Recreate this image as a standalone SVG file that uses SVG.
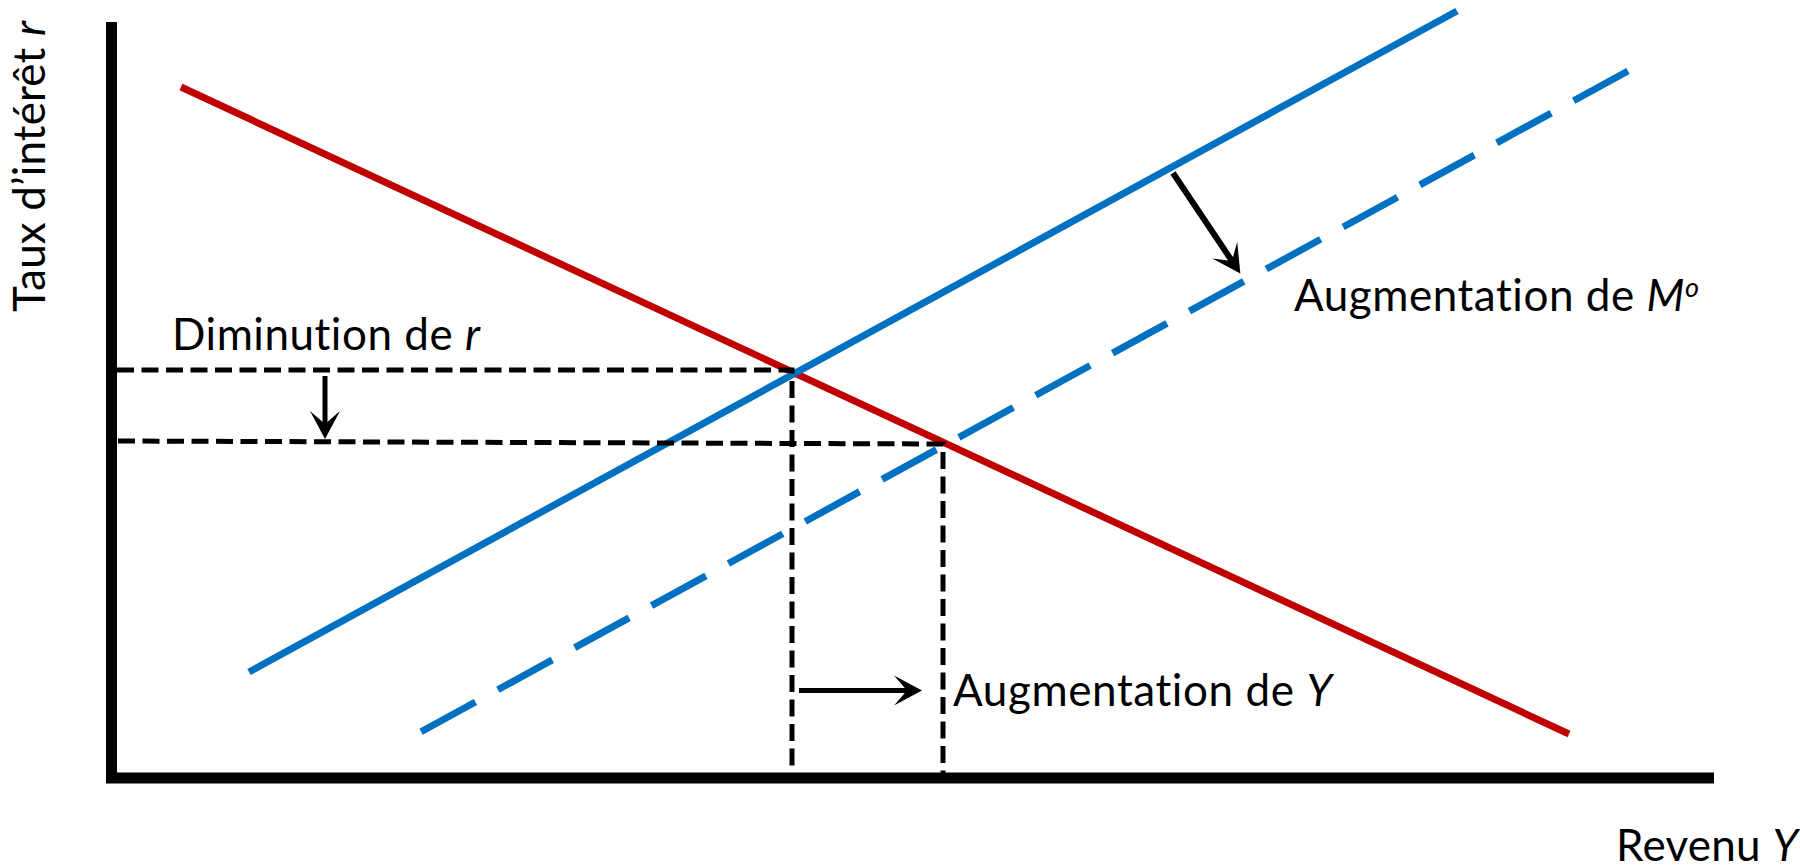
<svg xmlns="http://www.w3.org/2000/svg" width="1800" height="867" viewBox="0 0 1800 867">
<style>
.lbl{font-family:"Lato","Open Sans","Liberation Sans",sans-serif;font-size:44px;fill:#000;font-variant-ligatures:none;font-feature-settings:"liga" 0}
.it{font-style:italic}
.axis{stroke:#000;stroke-width:11;fill:none}
.is{stroke:#C00000;stroke-width:7;fill:none}
.lm{stroke:#0070C0;stroke-width:7;fill:none}
.lm2{stroke:#0070C0;stroke-width:7;fill:none;stroke-dasharray:62 25.6}
.guide{stroke:#000;stroke-width:5;fill:none;stroke-dasharray:17 7.5}
.arr{stroke:#000;stroke-width:5;fill:none;marker-end:url(#ah)}
</style>
<defs>
<marker id="ah" markerUnits="userSpaceOnUse" viewBox="-14 -16 30 32" markerWidth="30" markerHeight="32" refX="0" refY="0" orient="auto">
<path d="M15,0 L-13,15 L0,0 L-13,-15 Z" fill="#000"/>
</marker>
</defs>
<g id="axes">
<line class="axis" x1="111.5" y1="22" x2="111.5" y2="783"/>
<line class="axis" x1="106" y1="778" x2="1714" y2="778"/>
</g>
<g id="curves">
<line id="IS" class="is" x1="181" y1="87" x2="1569" y2="734"/>
<line id="LM" class="lm" x1="249" y1="672" x2="1457" y2="11"/>
<line id="LM2" class="lm2" x1="1628" y1="71" x2="417" y2="734"/>
</g>
<g id="connectors">
<path class="guide" d="M117,370 H792 V773"/>
<path class="guide" d="M118,441 L943,444 V773"/>
<line class="arr" x1="325" y1="376" x2="325" y2="424"/>
<line class="arr" x1="799" y1="690.5" x2="907" y2="690.5"/>
<line class="arr" style="stroke-width:6" x1="1173" y1="173" x2="1232" y2="261"/>
</g>
<g id="labels">
<text class="lbl" x="172" y="350" textLength="308" lengthAdjust="spacing">Diminution de <tspan class="it">r</tspan></text>
<text class="lbl" x="1294" y="311" textLength="405" lengthAdjust="spacing">Augmentation de <tspan class="it">M</tspan><tspan class="it" font-size="27" dy="-14">o</tspan></text>
<text class="lbl" x="953" y="706" textLength="379" lengthAdjust="spacing">Augmentation de <tspan class="it">Y</tspan></text>
<text class="lbl" x="1616" y="861" textLength="182" lengthAdjust="spacing">Revenu <tspan class="it">Y</tspan></text>
<text class="lbl" transform="translate(45,312) rotate(-90)" x="0" y="0" textLength="291" lengthAdjust="spacing">Taux d’intérêt <tspan class="it">r</tspan></text>
</g>
</svg>
